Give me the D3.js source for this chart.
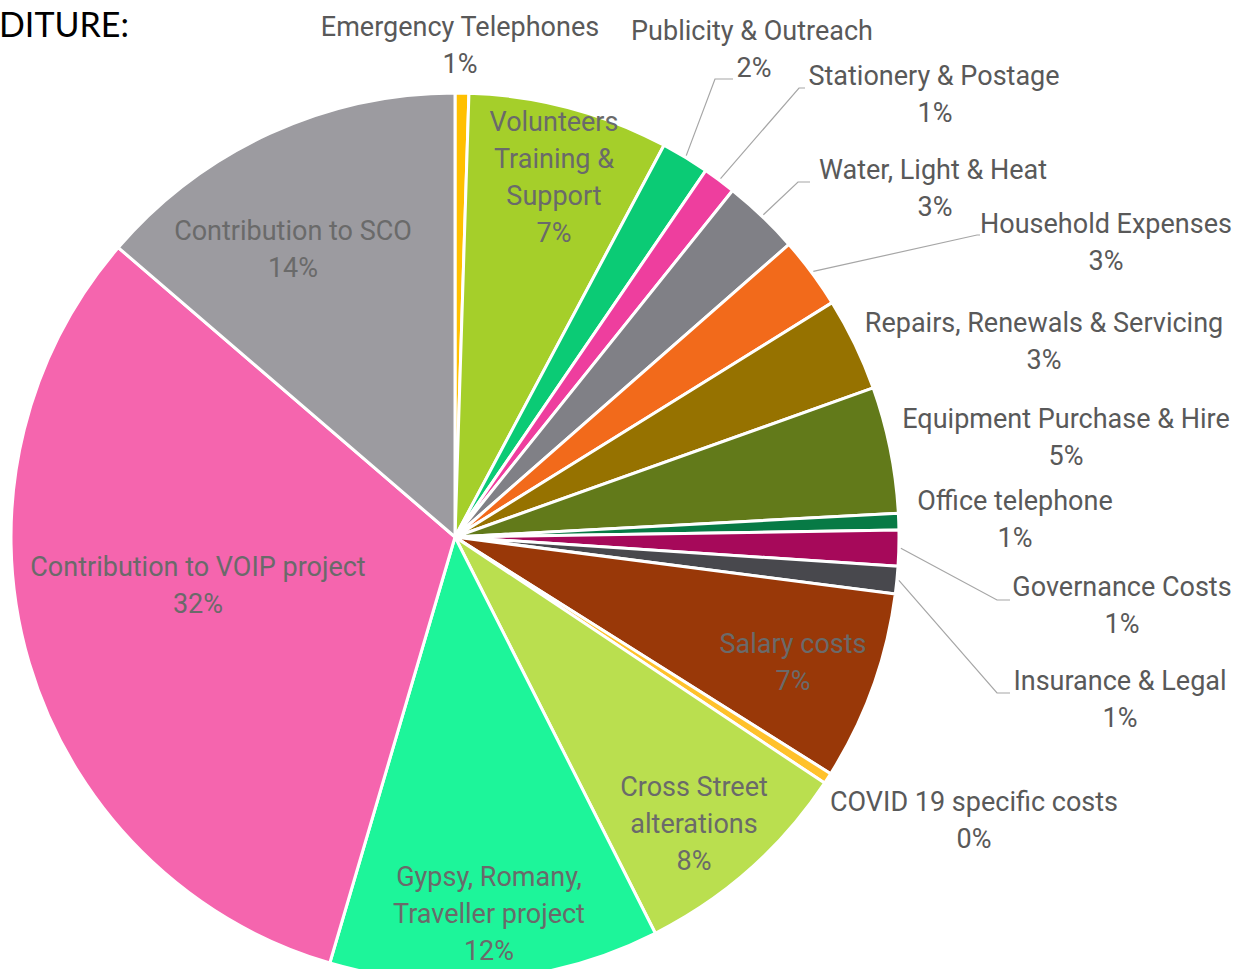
<!DOCTYPE html>
<html><head><meta charset="utf-8">
<script src="https://cdn.jsdelivr.net/npm/d3@7"></script>
<style>body{margin:0;background:#fff;overflow:hidden}</style>
</head><body>
<svg id="c" width="1249" height="969"></svg>
<script>
// ---- data ----
const categories = [
  "Emergency Telephones","Volunteers Training & Support","Publicity & Outreach","Stationery & Postage",
  "Water, Light & Heat","Household Expenses","Repairs, Renewals & Servicing","Equipment Purchase & Hire",
  "Office telephone","Governance Costs","Insurance & Legal","Salary costs","COVID 19 specific costs",
  "Cross Street alterations","Gypsy, Romany, Traveller project","Contribution to VOIP project","Contribution to SCO"
];
const values = [0.5, 7.3, 1.75, 1.2, 2.8, 2.6, 3.4, 4.6, 0.6, 1.3, 1.0, 6.9, 0.4, 8.2, 12.0, 31.75, 13.7];
const colors = ["#ffc000","#a5cf2a","#0bcb75","#ee3e9e","#808086","#f26a1b","#967200","#627a1a",
  "#077a45","#a6095a","#48484d","#993808","#ffc12b","#badf4f","#1df59a","#f565ae","#9c9ba0"];
const labelLines = [
  ["Emergency Telephones"],["Volunteers","Training &","Support"],["Publicity & Outreach"],["Stationery & Postage"],
  ["Water, Light & Heat"],["Household Expenses"],["Repairs, Renewals & Servicing"],["Equipment Purchase & Hire"],
  ["Office telephone"],["Governance Costs"],["Insurance & Legal"],["Salary costs"],["COVID 19 specific costs"],
  ["Cross Street","alterations"],["Gypsy, Romany,","Traveller project"],["Contribution to VOIP project"],["Contribution to SCO"]
];
const titleText = "DITURE:";

// ---- layout (not data) ----
const cx = 455, cy = 537, R = 444;
const lineH = 37;
// label center x, first-line center y, inside flag, percent x offset
const labelPos = [
  [460,27,0,0],[554,122,1,0],[752,31,0,2],[934,76,0,1],[933,170,0,2],[1106,224,0,0],[1044,323,0,0],
  [1066,419,0,0],[1015,501,0,0],[1122,587,0,0],[1120,681,0,0],[793,644,1,0],[974,802,0,0],
  [694,787,1,0],[489,877,1,0],[198,567,1,0],[293,231,1,0]
];
// leader lines: index -> [elbow x, elbow y, end x, end y]
const leaders = {
  2:[715,79,733,79],
  3:[799,88,805,88],
  4:[798,182,810,182],
  5:[977,235,980,235],
  9:[997,600,1010,600],
  10:[997,693,1010,693]
};

const svg = d3.select("#c");
const g = svg.append("g").attr("transform",`translate(${cx},${cy})`);
const pie = d3.pie().sort(null).value(d=>d).startAngle(0).endAngle(2*Math.PI);
const arcs = pie(values);
const arc = d3.arc().innerRadius(0).outerRadius(R);

g.selectAll("path.slice").data(arcs).join("path")
  .attr("class","slice")
  .attr("d",arc)
  .attr("fill",(d,i)=>colors[i])
  .attr("stroke","#fff").attr("stroke-width",3).attr("stroke-linejoin","round");

// leader lines
Object.keys(leaders).forEach(k=>{
  const i = +k, a = arcs[i], m = (a.startAngle+a.endAngle)/2;
  const sx = cx + (R+2)*Math.sin(m), sy = cy - (R+2)*Math.cos(m);
  const L = leaders[k];
  svg.append("polyline")
    .attr("points",`${sx},${sy} ${L[0]},${L[1]} ${L[2]},${L[3]}`)
    .attr("fill","none").attr("stroke","#a6a6a6").attr("stroke-width",1.2);
});

// labels
const fmt = v => Math.round(v) + "%";
labelLines.forEach((lines,i)=>{
  const [x,y,inside,po] = labelPos[i];
  const t = svg.append("text")
    .attr("text-anchor","middle")
    .attr("font-family","Roboto, 'Open Sans', sans-serif")
    .attr("font-size",27)
    .attr("fill", inside ? "#6a6a6a" : "#595959");
  const all = lines.concat([fmt(values[i])]);
  all.forEach((s,j)=>{
    t.append("tspan").attr("x", x + (j===all.length-1 ? po : 0))
      .attr("y", y + j*lineH).attr("dy","0.35em").text(s);
  });
});

svg.append("text").attr("x",-1).attr("y",25).attr("dy","0.35em")
  .attr("font-family","Lato, sans-serif").attr("font-size",34).attr("fill","#000")
  .text(titleText);
</script>
</body></html>
